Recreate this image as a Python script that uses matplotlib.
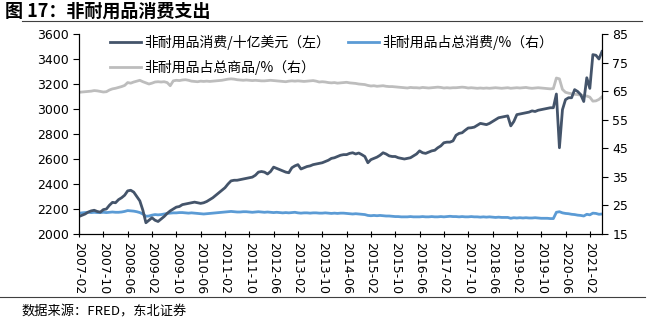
import matplotlib
matplotlib.use("Agg")
import matplotlib.pyplot as plt
import pandas as pd

# monthly, 2007-02 .. 2021-06
months = pd.period_range("2007-02", "2021-06", freq="M").strftime("%Y-%m").tolist()

spend = [
    2140, 2150, 2160, 2175, 2185, 2190, 2180, 2175, 2195, 2200, 2230,
    2253, 2250, 2275, 2290, 2310, 2345, 2350, 2335, 2300, 2265, 2190, 2090,
    2110, 2130, 2110, 2100, 2120, 2140, 2165, 2185, 2200, 2215, 2220, 2235,
    2240, 2245, 2250, 2255, 2250, 2245, 2250, 2260, 2275, 2290, 2310, 2330,
    2350, 2370, 2400, 2425, 2430, 2430, 2435, 2440, 2445, 2450, 2455, 2470,
    2495, 2500, 2495, 2480, 2500, 2535, 2525, 2515, 2505, 2495, 2490, 2530,
    2545, 2555, 2520, 2530, 2540, 2545, 2555, 2560, 2565, 2570, 2580, 2590,
    2605, 2610, 2620, 2630, 2635, 2635, 2645, 2650, 2640, 2648, 2635, 2620,
    2570, 2595, 2605, 2615, 2630, 2650, 2640, 2625, 2620, 2620, 2610, 2605,
    2600, 2605, 2610, 2625, 2640, 2665, 2650, 2645, 2655, 2665, 2670, 2690,
    2705, 2730, 2735, 2735, 2745, 2790, 2805, 2810, 2830, 2848, 2850, 2855,
    2870, 2885, 2880, 2875, 2885, 2900, 2915, 2930, 2935, 2940, 2945, 2865,
    2900, 2955, 2960, 2965, 2970, 2975, 2985, 2980, 2990, 2995, 3000, 3005,
    3010, 3010, 3120, 2690, 2995, 3075, 3090, 3090, 3155, 3140, 3115, 3060,
    3250, 3165, 3435, 3430, 3400, 3460,
]

share_total = [
    22.3, 22.4, 22.5, 22.6, 22.5, 22.6, 22.5, 22.5, 22.6, 22.5, 22.6,
    22.7, 22.6, 22.6, 22.7, 22.9, 23.2, 23.1, 23.0, 22.8, 22.5, 22.0, 21.2,
    21.3, 21.6, 21.8, 21.7, 21.8, 22.0, 22.2, 22.3, 22.4, 22.4, 22.5, 22.5,
    22.4, 22.3, 22.4, 22.3, 22.2, 22.1, 22.0, 22.1, 22.2, 22.3, 22.4, 22.5,
    22.6, 22.7, 22.8, 22.9, 22.8, 22.7, 22.7, 22.8, 22.8, 22.7, 22.6, 22.7,
    22.8, 22.7, 22.6, 22.7, 22.6, 22.5, 22.6, 22.5, 22.4, 22.5, 22.4, 22.5,
    22.6, 22.4, 22.3, 22.4, 22.4, 22.3, 22.4, 22.4, 22.3, 22.3, 22.4, 22.3,
    22.2, 22.3, 22.2, 22.3, 22.3, 22.2, 22.1, 22.0, 22.1, 22.0, 21.9, 21.8,
    21.5, 21.4, 21.5, 21.4, 21.5, 21.4, 21.3, 21.3, 21.2, 21.1, 21.1, 21.0,
    21.0, 21.0, 21.1, 21.0, 21.0, 21.0, 21.1, 21.0, 21.0, 21.1, 21.0, 21.0,
    21.1, 21.0, 21.1, 21.2, 21.1, 21.1, 21.0, 21.1, 21.0, 21.0, 21.1, 21.0,
    21.0, 20.9, 21.0, 20.9, 21.0, 20.9, 20.8, 20.9, 20.8, 20.8, 20.8, 20.5,
    20.7, 20.6, 20.7, 20.6, 20.7, 20.6, 20.6, 20.7, 20.6, 20.5, 20.5, 20.5,
    20.4, 20.4, 22.6, 22.8, 22.4, 22.2, 22.1, 21.9, 21.8, 21.6, 21.5, 21.3,
    21.9, 21.7, 22.3, 22.2, 21.9, 22.0,
]

share_goods = [
    64.6, 64.7, 64.8, 64.9, 65.0, 65.2, 65.1, 64.9, 64.7, 64.8, 65.4,
    65.8, 66.0, 66.3, 66.6, 67.0, 68.0, 67.8, 68.2, 68.5, 68.8, 68.3, 67.9,
    67.5, 67.8, 68.2, 68.3, 68.2, 68.3, 68.0, 66.9, 68.6, 68.8, 68.7, 68.9,
    69.0, 68.8, 68.5, 68.4, 68.3, 68.5, 68.4, 68.5, 68.4, 68.5, 68.6, 68.7,
    68.8, 69.0, 69.2, 69.3, 69.2, 69.0, 68.9, 68.8, 68.9, 68.8, 68.7, 68.8,
    68.7, 68.6, 68.6, 68.7, 68.8, 68.7, 68.6, 68.5, 68.4, 68.3, 68.5, 68.6,
    68.5, 68.6, 68.5, 68.4, 68.5, 68.6, 68.7, 68.5, 68.2, 68.3, 68.2, 68.0,
    67.9, 68.0, 67.8, 67.9, 68.0, 68.1, 67.9, 67.8, 67.7, 67.5, 67.4, 67.3,
    67.0, 66.8, 66.9, 66.7, 66.8, 66.9, 66.7, 66.6, 66.6, 66.5, 66.4, 66.3,
    66.2, 66.1, 66.3, 66.2, 66.2, 66.1, 66.3, 66.2, 66.1, 66.2, 66.3, 66.4,
    66.3, 66.1, 66.2, 66.1, 66.2, 66.2, 66.3, 66.4, 66.3, 66.1, 66.2, 66.1,
    66.0, 66.1, 66.0, 66.1, 66.0, 66.1, 66.2, 66.1, 66.0, 66.1, 66.2, 66.0,
    66.1, 66.2, 66.1, 66.2, 66.3, 66.1, 66.0, 66.1, 66.2, 66.1, 66.0, 65.9,
    65.8, 65.9, 69.6, 69.3, 65.6, 64.6, 64.3, 64.1, 63.9, 63.8, 63.6, 63.4,
    63.3, 62.9, 61.5, 61.6, 62.1, 63.0,
]

cjk = ["Noto Sans CJK SC", "DejaVu Sans"]
x = list(range(len(months)))

fig = plt.figure(figsize=(6.52, 3.27), dpi=100)
ax = fig.add_axes([0.1212, 0.2844, 0.8021, 0.6116])
ax2 = ax.twinx()

l1, = ax.plot(x, spend, color="#44546A", lw=2.0, label="非耐用品消费/十亿美元（左）")
l2, = ax2.plot(x, share_total, color="#5B9BD5", lw=2.0, label="非耐用品占总消费/%（右）")
l3, = ax2.plot(x, share_goods, color="#BDBDBD", lw=2.0, label="非耐用品占总商品/%（右）")
ax.set_zorder(ax2.get_zorder() + 1)
ax.patch.set_visible(False)

ax.set_xlim(0, len(months) - 1)
ax.set_ylim(2000, 3600)
ax.set_yticks(range(2000, 3601, 200))
ax2.set_ylim(15, 85)
ax2.set_yticks(range(15, 86, 10))
ax.set_xticks(x[::8])
ax.set_xticklabels(months[::8], rotation=270, fontsize=8.5)

for a in (ax, ax2):
    a.spines["top"].set_visible(False)
    a.tick_params(labelsize=9, length=4, width=0.8, color="black")
ax.tick_params(axis="x", length=4, direction="inout")

ax.legend(handles=[l1, l3, l2], ncol=2, loc="upper left",
          bbox_to_anchor=(0.1687, 0.892), bbox_transform=fig.transFigure,
          borderaxespad=0, borderpad=0, frameon=False,
          prop={"family": cjk, "size": 10}, handlelength=2.2, handletextpad=0.25,
          columnspacing=1.3, labelspacing=0.7)

fig.text(0.008, 0.965, "图 17：非耐用品消费支出", family=cjk, fontsize=13,
         fontweight="bold", va="center", ha="left")
fig.add_artist(plt.Line2D([0.034, 0.985], [0.936, 0.936], color="#404040", lw=0.8))
fig.add_artist(plt.Line2D([0.0, 0.99], [0.092, 0.092], color="#404040", lw=0.8))
fig.text(0.033, 0.046, "数据来源：FRED，东北证券", family=cjk, fontsize=9.5,
         va="center", ha="left")

fig.savefig("out.png", dpi=100)
